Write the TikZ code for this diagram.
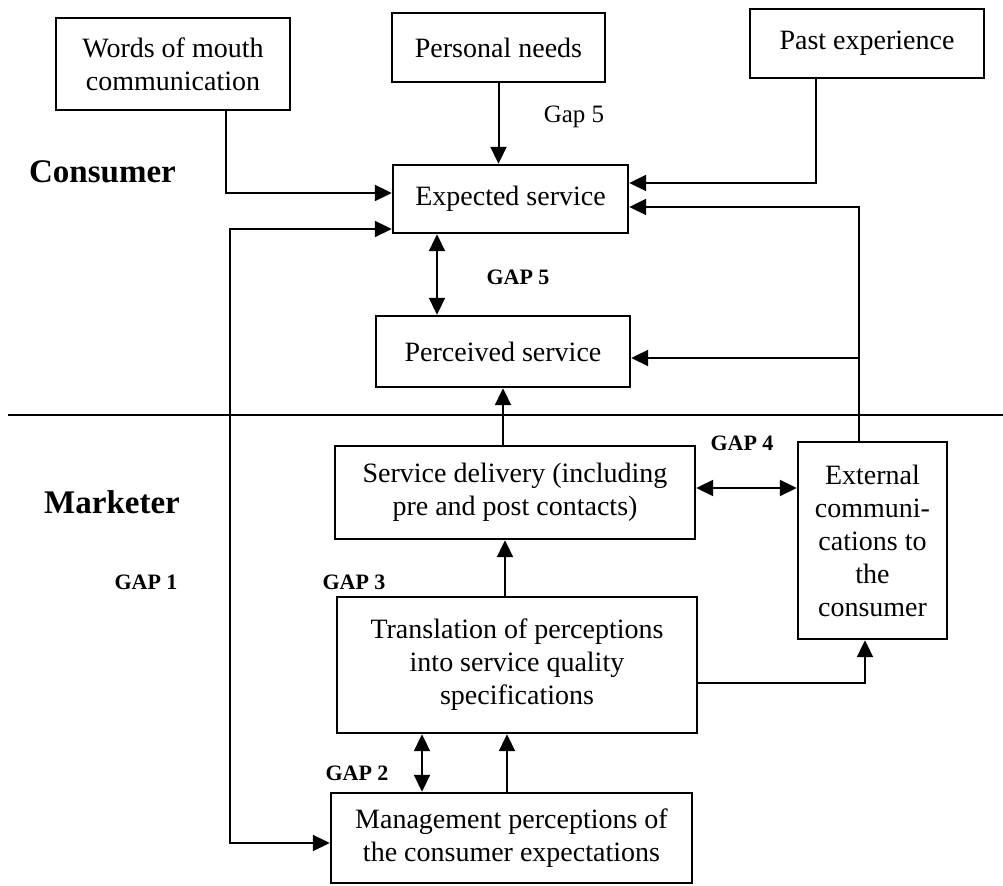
\documentclass[tikz,border=0pt]{standalone}
\usepackage{fontspec}
\setmainfont{Liberation Serif}
\usetikzlibrary{arrows.meta}

\begin{document}
\begin{tikzpicture} [x=0.5pt,y=-0.5pt,
  box/.style={draw, line width=1.2pt, align=center, inner sep=0pt, font=\fontsize{14}{16.5}\selectfont},
  arr/.style={-{Triangle[length=8.5pt,width=8pt]}, line width=1pt},
  dbl/.style={{Triangle[length=8.5pt,width=8pt]}-{Triangle[length=8.5pt,width=8pt]}, line width=1pt},
  side/.style={font=\fontsize{16.5}{19}\selectfont\bfseries},
  gap/.style={font=\fontsize{11}{13}\selectfont\bfseries}]

\useasboundingbox (0,0) rectangle (1003,886);
%\draw [step=50, dotted] (0,0) grid (1003,886);

\node (words) [box, minimum width=117pt, minimum height=46pt] at (173,64) {Words of mouth\\communication};
\node (needs) [box, minimum width=106.5pt, minimum height=34.5pt] at (498.5,47.5) {Personal needs};
\node (past) [box, minimum width=117pt, minimum height=34.5pt] at (867,43.5) {Past experience};
\node (expected) [box, minimum width=117.5pt, minimum height=34pt] at (510.5,199) {Expected service};
\node (perceived) [box, minimum width=127pt, minimum height=35.5pt] at (503,351.5) {Perceived service};
\node (delivery) [box, minimum width=180pt, minimum height=46.5pt] at (515,492.5) {Service delivery (including\\pre and post contacts)};
\node (external) [box, minimum width=74.5pt, minimum height=98.5pt] at (872.5,540.5) {External\\communi-\\cations to\\the\\consumer};
\node (translation) [box, minimum width=180pt, minimum height=68pt] at (517,665) {Translation of perceptions\\into service quality\\specifications};
\node (management) [box, minimum width=180.5pt, minimum height=45pt] at (511.5,838) {Management perceptions of\\the consumer expectations};

\node (consumer) [side] at (102.5,172) {Consumer};
\node (marketer) [side] at (112,502) {Marketer};
\node (gapneeds) [font=\fontsize{12.5}{15}\selectfont] at (574,117) {Gap 5};
\node (gapfive) [gap] at (518,277) {GAP 5};
\node (gapfour) [gap] at (742,443) {GAP 4};
\node (gapthree) [gap] at (354,582) {GAP 3};
\node (gapone) [gap] at (146,582) {GAP 1};
\node (gaptwo) [gap] at (357,773) {GAP 2};

\draw [line width=1pt] (8,415) -- (1003,415);

\draw [arr] ([xshift=26.5pt]words.south) |- ([yshift=3pt]expected.west);
\draw [arr] (needs.south) -- (needs.south |- expected.north);
\draw [arr] ([xshift=-25.5pt]past.south) |- ([yshift=8pt]expected.east);
\coordinate (extup) at ([xshift=-6.75pt]external.north);
\draw [arr] (extup) |- ([yshift=-4pt]expected.east);
\coordinate (perin) at ([yshift=-3.25pt]perceived.east);
\draw [arr] (extup |- perin) -- (perin);
\draw [dbl] ([xshift=-36.75pt]expected.south) -- ([xshift=-36.75pt]expected.south |- perceived.north);
\draw [arr] (delivery.north -| perceived.south) -- (perceived.south);
\draw [dbl] ([yshift=2.25pt]delivery.east) -- ([yshift=2.25pt]delivery.east -| external.west);
\draw [arr] ([xshift=-6pt]translation.north) -- ([xshift=-6pt]translation.north |- delivery.south);
\draw [arr] ([yshift=-9pt]translation.east) -| ([xshift=-3.75pt]external.south);
\draw [dbl] ([xshift=-44.75pt]management.north) -- ([xshift=-44.75pt]management.north |- translation.south);
\draw [arr] ([xshift=-2.25pt]management.north) -- ([xshift=-2.25pt]management.north |- translation.south);
\coordinate (leftrail) at (230,500);
\draw [dbl] ([yshift=-15pt]expected.west) -| (leftrail) |- ([yshift=-2.5pt]management.west);

\end{tikzpicture}
\end{document}
